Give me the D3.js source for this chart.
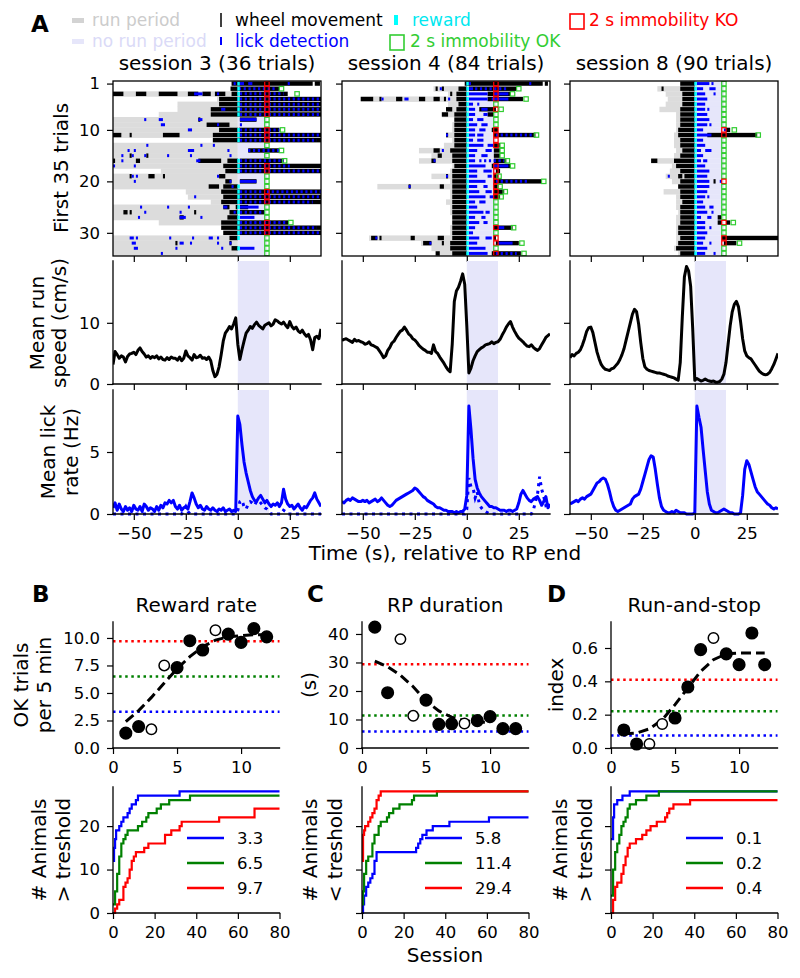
<!DOCTYPE html>
<html><head><meta charset="utf-8">
<script src="https://cdn.jsdelivr.net/npm/d3@7"></script>
<style>body{margin:0;background:#fff;}</style></head>
<body><svg id="fig" width="800" height="978"></svg>
<script>
// ---------------- DATA ----------------
const sessionTitles = ["session 3 (36 trials)", "session 4 (84 trials)", "session 8 (90 trials)"];
const timeTicks = [-50, -25, 0, 25];
const sampleTimes = d3.range(-60, 41);   // 1 s bins, -60..40 s
const shadePeriod = [0, 15];
const okCheckTime = 14;

const speed3 = [3.2,5.3,4.8,4.2,4.6,4.4,3.6,4.5,4.9,5.0, 5.2,4.8,5.5,5.9,5.3,4.9,4.4,4.6,4.2,4.5, 4.3,4.6,4.1,4.4,4.0,3.9,4.3,4.0,4.4,4.2, 4.2,3.9,4.4,3.8,4.2,5.4,4.6,4.3,3.9,4.8, 4.3,4.4,4.7,4.2,4.3,4.0,4.4,3.8,2.2,1.2, 1.6,2.8,4.8,7.0,8.3,8.8,9.4,9.0,9.8,10.8, 6.5,4.0,5.6,7.0,8.3,8.8,9.4,9.1,9.7,10.1, 9.6,9.3,9.0,9.6,9.8,10.0,9.5,9.8,10.5,10.3, 10.0,9.8,10.1,9.6,9.2,10.2,9.4,9.0,9.3,8.7, 8.4,8.8,8.2,7.8,8.1,7.2,5.6,7.6,7.8,7.4, 9.0];
const speed4 = [7.1,7.3,7.4,7.2,7.0,6.8,7.3,7.0,7.1,6.9, 6.8,6.5,6.6,6.9,6.4,6.3,6.1,5.9,5.4,4.9, 4.3,4.6,5.5,6.0,6.7,7.0,7.6,8.1,8.6,8.8, 9.3,8.8,8.2,7.9,7.4,7.2,6.8,6.3,6.0,5.7, 5.5,5.2,5.2,5.0,6.4,5.3,5.0,4.4,3.9,3.4, 2.8,2.3,2.0,6.5,13.5,15.2,15.8,16.8,18.0,16.3, 9.5,1.8,2.6,3.8,4.6,5.3,5.6,5.9,6.1,6.4, 6.5,6.6,6.9,6.6,6.8,6.9,7.3,8.0,8.6,9.3, 9.8,10.2,9.3,8.6,8.0,7.5,7.2,6.9,6.5,6.2, 6.1,6.4,6.0,5.7,5.5,5.8,6.4,7.0,7.6,7.9, 8.2];
const speed8 = [4.3,4.8,4.6,5.0,5.2,5.6,6.4,7.4,8.6,9.2, 9.3,8.4,6.8,5.2,4.1,3.2,2.7,2.4,2.3,2.2, 2.5,2.6,3.0,3.4,4.0,4.8,5.8,7.2,8.6,10.0, 11.4,12.2,11.8,9.8,6.8,4.2,2.8,2.4,2.2,2.1, 2.0,1.9,1.8,1.8,1.7,1.6,1.5,1.3,1.2,1.1, 1.0,0.8,0.6,3.5,11.0,17.5,19.2,18.5,16.0,9.0, 0.6,0.9,0.7,0.5,0.6,0.8,0.6,0.5,0.4,0.5, 0.3,0.3,0.4,0.8,1.6,3.5,6.5,9.5,11.8,13.0, 13.5,12.6,10.2,7.4,5.4,4.6,4.3,4.1,3.6,3.1, 2.6,2.1,1.8,1.6,1.5,1.6,1.9,2.5,3.2,4.1, 5.0];

const lick3 = [0.5,0.9,0.3,0.8,0.4,0.2,0.6,0.3,0.5,0.2, 0.7,0.4,0.3,0.6,0.2,0.8,0.6,0.3,0.5,0.4, 0.2,0.6,0.3,0.7,0.5,0.9,0.8,1.1,0.9,1.1, 0.6,0.4,0.7,0.3,0.5,0.6,0.4,1.0,1.7,1.3, 0.8,0.5,0.7,0.4,0.3,0.6,0.4,0.3,0.5,0.3, 0.2,0.4,0.3,0.5,0.2,0.3,0.4,0.2,0.3,0.2, 7.9,7.2,5.6,4.2,3.3,2.6,1.9,1.4,1.1,1.0, 1.3,1.5,1.2,0.9,1.1,0.8,0.6,0.8,0.7,0.9, 0.6,0.9,2.0,1.2,0.8,0.6,0.7,0.4,0.6,0.8, 0.5,0.3,0.6,0.5,0.8,1.1,1.3,1.7,1.2,0.9, 0.6];
const lick4 = [1.0,0.9,1.1,1.2,1.1,1.3,1.2,1.1,1.0,1.0, 1.1,1.0,1.1,0.9,1.0,1.1,1.2,1.0,1.1,1.3, 1.1,0.9,0.7,0.6,0.7,0.9,1.1,1.2,1.3,1.4, 1.5,1.6,1.7,1.8,1.9,2.1,2.0,1.8,1.6,1.4, 1.3,1.1,1.0,0.9,0.8,0.6,0.5,0.5,0.4,0.3, 0.3,0.2,0.2,0.2,0.1,0.2,0.1,0.2,0.2,0.4, 1.5,8.7,6.8,4.5,2.8,2.1,1.7,1.4,1.2,1.0, 0.8,0.6,0.6,0.5,0.5,0.4,0.3,0.3,0.3,0.2, 0.3,0.3,0.2,0.3,0.4,0.9,1.6,1.9,1.6,1.3, 1.1,1.0,1.2,1.3,1.4,1.1,0.7,1.0,1.4,0.5, 0.8];
const lick8 = [0.8,0.9,1.0,1.1,1.0,1.2,1.3,1.2,1.4,1.5, 1.6,1.9,2.2,2.5,2.6,2.8,2.9,2.8,2.4,1.8, 1.1,0.6,0.3,0.2,0.3,0.4,0.5,0.6,0.7,0.8, 1.2,1.4,1.5,1.6,2.0,2.6,3.2,3.8,4.4,4.7, 4.6,3.6,2.4,1.3,0.6,0.3,0.2,0.1,0.1,0.2, 0.1,0.3,0.2,0.1,0.1,0.1,0.0,0.0,0.0,0.0, 0.1,8.7,7.8,7.0,5.2,3.5,1.8,0.8,0.3,0.2, 0.1,0.1,0.2,0.3,0.4,0.3,0.2,0.1,0.1,0.0, 0.0,0.0,0.1,1.5,3.6,4.3,4.0,3.4,2.8,2.2, 1.8,1.6,1.4,1.2,1.0,0.8,0.7,0.5,0.4,0.5, 0.4];
const lickDot3 = [0,0,0,0,0,0,0,0,0,0, 0,0,0,0,0,0,0,0,0,0, 0,0,0,0,0,0,0,0,0,0, 0,0,0,0,0.3,0.6,0.2,0,0,0, 0,0,0,0,0,0,0,0,0,0, 0,0,0,0,0,0,0,0,0,0, 0.3,1.0,1.1,0.6,0.4,0.8,1.0,0.9,0.7,1.0, 1.1,0.9,0.7,0.5,0.4,0.2,0,0,0,0, 0,0,0.3,0.2,0,0,0,0,0,0, 0,0,0,0,0,0,0,0,0,0, 0];
const lickDot4 = [0,0,0,0,0,0,0,0,0,0, 0,0,0,0,0,0,0,0,0,0, 0,0,0,0,0,0,0,0,0,0, 0,0,0,0,0,0,0,0,0,0, 0,0,0,0,0,0,0,0,0,0, 0,0,0,0,0,0,0,0,0,0, 0.4,2.9,2.2,2.1,1.3,1.8,0.8,0.5,0.3,0.2, 0.1,0,0,0,0,0,0,0,0,0, 0,0,0,0,0,0,0,0,0,0, 0,0,0.3,1.0,1.6,3.0,2.0,1.4,0.7,0.8, 0.5];

// raster rows: [run period start, wheel movement segments, lick segments, KO at check, OK box time]
const s3Rows = [
 [null, [[-3,36],[37,39.5]], [[-2,-1],[1,3],[5,7],[24,25]], 1, null],
 [null, [[-3.5,20]], [[0.5,19]], 1, 21],
 [-60, [[-60,-55],[-49,-44],[-38,-29],[-24,-19],[-17,-13],[-11,-6],[-3,0],[1,24]], [[-21,-17],[-10,-9],[1,22]], 1, 28.5],
 [-10, [[-9,40]], [[1,40]], 1, null],
 [-29, [[-9,40]], [[1,39]], 1, null],
 [-29, [[-13,40]], [[-8,-6],[1,40]], 1, null],
 [-38, [[-13,40]], [[1,40]], 1, null],
 [-60, [[-19,-18],[1,9]], [[-45,-44],[-38,-36],[-19,-17],[1,9]], 0, 14],
 [-60, [[-15,-4]], [[-37,-35],[-10,-9],[1,2]], 0, 14],
 [-60, [[-9,0],[0.5,20]], [[-24,-22],[1,20]], 1, 21.5],
 [-60, [[-60,-56],[-52,-51],[-36,-28],[-12,40]], [[1,40]], 1, null],
 [null, [[-12,40]], [[1,38]], 1, null],
 [-60, [], [[-44,-43],[-18,-17],[-12,-11]], 0, 14],
 [-60, [[5,20]], [[-53,-52],[-50,-49],[-24,-21],[-5,-4],[5,20]], 0, 21],
 [-60, [[-52,-51],[-44,-43]], [[-56,-55],[-51,-50],[-45,-44],[-34,-33],[-23,-22],[-4,-3]], 0, 14],
 [-60, [[-60,-59],[-49,-47],[-19,-8],[-5,0],[1,22]], [[-56,-55],[-20,-18],[1,22]], 0, 22.5],
 [-60, [[-7,40]], [[-60,-59],[-50,-49],[1,25]], 1, null],
 [-37, [[-6,40]], [[1,40]], 1, null],
 [-60, [[-52,-51],[-43,-40],[-36,-35],[-9,-6]], [[-51,-50],[-49,-48],[-10,-9]], 0, 14],
 [-60, [[-6,-3],[1,9]], [[-50,-49],[-4,-3],[1,9]], 0, 14],
 [-60, [[-14,-9],[-7,0]], [[-3,-2]], 0, 14],
 [-25, [[-8,40]], [[1,12],[14,40]], 1, null],
 [-24, [[-7,40]], [[-21,-20],[1,40]], 1, null],
 [-13, [[-8,40]], [[1,36]], 1, null],
 [-60, [[-7,-4],[-1,0],[1,5]], [[-47,-46],[-34,-33],[-24,-23],[-7,-5],[1,10]], 0, 14],
 [-60, [[-55,-53],[-52,-51],[-21,-20],[-4,0],[1,13]], [[-45,-44],[-28,-27],[-2,-1],[1,13]], 0, 14],
 [-60, [[-28,-26],[-5,0]], [[-48,-47],[-28,-25],[-18,-17],[1,8]], 0, 14],
 [-38, [[-8,24.5]], [[1,24]], 1, 25.5],
 [null, [[-8,40]], [[1,38]], 1, null],
 [null, [[-7,40]], [[1,40]], 1, null],
 [-60, [[-4,0]], [[-52,-50],[-49,-48],[-33,-32],[-22,-21],[-14,-12],[-10,-9]], 0, 14],
 [-60, [[-30,-29],[-4,-3]], [[-51,-49],[-28,-26],[-23,-22],[-10,-9],[-4,-3]], 0, 14],
 [-60, [[-3,0]], [[-50,-48],[-30,-29],[-8,-7],[1,8]], 0, 14],
 [-60, [], [[-37,-36]], 0, 14]
];
const s4Rows = [
 [null, [[-1,36.5],[37.5,39]], [[1,2],[30,31]], 1, null],
 [-16, [[-15,-14],[-12,-11],[-4,0],[1,24]], [[-13,-12],[1,3],[4,19]], 1, 25],
 [-9, [[-8,-7],[-5,0],[10,21]], [[1,10],[13,20]], 1, 22],
 [-51, [[-51,-45],[-42,-41],[-34,-31],[-23,-20],[-16,-13],[-11,-10],[-5,0],[10,27]], [[-41,-40],[-30,-28],[-9,-8],[1,10],[12,20]], 1, 28.5],
 [-9, [[-4,0]], [[1,3],[5,6]], 0, 14],
 [-9, [[-10,-7],[-5,0],[6,14]], [[1,4],[7,10]], 1, 16.5],
 [-12, [[-12,-9],[-6,0],[10,13]], [[1,4],[8,10]], 0, 14],
 [-6, [[-6,0]], [[1,3],[5,8]], 0, 14],
 [-7, [[-6,0]], [[1,5],[7,10]], 0, 14],
 [-7, [[-6,0],[12,15]], [[1,4],[6,9]], 1, null],
 [-10, [[-10,-9],[-6,0],[13,33]], [[-10,-9],[1,4],[5,8],[14,32]], 1, 33.5],
 [-7, [[-6,0]], [[1,3],[5,8]], 1, null],
 [-11, [[-6,0],[13,16]], [[1,8],[10,13]], 1, 17],
 [-23, [[-16,-13],[-8,0],[13,16]], [[-12,-11],[1,5],[9,12]], 0, 17],
 [-17, [[-14,-12],[-7,0],[13,16]], [[1,4],[7,10]], 0, 17],
 [-23, [[-17,-15],[-7,0],[13,19]], [[-16,-15],[1,4],[6,18]], 0, 19.5],
 [-7, [[-6,0],[12,21]], [[1,9],[13,20]], 1, 22],
 [-8, [[-7,0],[14,16]], [[1,5],[8,12]], 1, null],
 [-17, [[-10,-9],[-7,0],[13,15]], [[-10,-9],[1,5],[10,12]], 1, 15.5],
 [-8, [[-7,0],[13,36]], [[1,9],[14,30]], 1, 37],
 [-43, [[-28,-27],[-13,-11],[-7,0],[13,15]], [[-28,-27],[1,5],[8,10]], 1, 16],
 [-8, [[-7,0],[13,18]], [[1,6],[9,12]], 1, 18.5],
 [-8, [[-7,0],[13,16]], [[1,9],[11,13]], 1, 16.5],
 [-10, [[-7,0]], [[1,4],[6,9]], 0, 14],
 [-8, [[-7,0]], [[1,5]], 0, 14],
 [-8, [[-7,0]], [[1,8],[9,11]], 0, 14],
 [-7, [[-7,0]], [[1,4],[7,9]], 0, 14],
 [-7, [[-7,0]], [[1,6],[8,10]], 0, 14],
 [-8, [[-7,0],[13,22]], [[1,4],[15,18]], 1, 22.5],
 [-8, [[-7,0]], [[1,3]], 0, 14],
 [-47, [[-46,-43],[-42,-41],[-27,-25],[-14,-11],[-7,0],[13,14]], [[-44,-43],[1,6],[9,12]], 1, null],
 [-22, [[-21,-17],[-12,-11],[-8,0],[14,25]], [[-18,-17],[1,5],[15,22]], 1, 26.5],
 [-17, [[-8,0]], [[1,9]], 0, 14],
 [-14, [[-15,-13],[-7,0],[12,26]], [[1,10],[14,24]], 1, 27.5]
];
const s8Rows = [
 [-7, [[-7,0]], [[1,7],[8,9]], 0, 14],
 [-18, [[-16,-15],[-7,0]], [[1,4],[7,10]], 0, 14],
 [-14, [[-6,0]], [[1,5],[9,10]], 0, 14],
 [-13, [[-6,0]], [[1,6]], 0, 14],
 [-14, [[-6,0]], [[1,5]], 0, 14],
 [-17, [[-7,0]], [[1,5],[6,7]], 0, 14],
 [-9, [[-7,0]], [[1,6]], 0, 14],
 [-9, [[-7,0]], [[1,7]], 0, 14],
 [-9, [[-7,0]], [[1,6],[7,8]], 0, 14],
 [-9, [[-8,0],[15,17]], [[1,4],[14,15]], 1, 19],
 [-10, [[-8,0],[6,30]], [[1,8]], 1, 30.5],
 [-10, [[-7,0]], [[1,4]], 0, 14],
 [-10, [[-7,0]], [[1,5]], 0, 14],
 [-9, [[-6,0]], [[1,3],[5,8]], 0, 14],
 [-10, [[-7,0]], [[1,4]], 0, 14],
 [-21, [[-21,-18],[-10,0]], [[1,3],[4,6]], 0, 14],
 [-11, [[-9,0]], [[1,5]], 0, 14],
 [-12, [[-7,0]], [[1,7]], 0, 14],
 [-14, [[-8,-6],[-5,0]], [[-13,-12],[1,6]], 0, 14],
 [-11, [[-7,0],[9,10]], [[1,7],[12,13]], 1, null],
 [-8, [[-8,0]], [[1,7]], 0, 14],
 [-15, [[-7,0]], [[1,6]], 0, 14],
 [-9, [[-7,0]], [[1,5],[6,7]], 0, 14],
 [-9, [[-6,0]], [[1,4]], 0, 14],
 [-9, [[-7,0]], [[1,5],[7,9]], 0, 14],
 [-8, [[-7,0]], [[1,6],[8,9]], 0, 14],
 [-9, [[-7,0],[11,13]], [[1,3],[6,8]], 0, 14],
 [-9, [[-7,0],[11,13],[15,17]], [[1,5]], 1, 18.5],
 [-9, [[-8,0]], [[1,5],[7,8]], 0, 14],
 [-9, [[-8,0]], [[1,6]], 0, 14],
 [-9, [[-7,0],[13,40]], [[1,5]], 1, null],
 [-9, [[-8,0],[14,20]], [[1,4],[7,8]], 1, 21.5],
 [-10, [[-9,0]], [[1,6]], 0, 14],
 [-8, [[-7,0]], [[1,5],[9,10]], 0, 14]
];

// panels B-D
const sessionsNum = [1,2,3,4,5,6,7,8,9,10,11,12];
const openSessions = [3,4,8];
const rewardRate = [1.35,1.95,1.7,7.5,7.3,9.75,8.9,10.7,10.35,9.6,10.85,10.1];
const rpDuration = [42.4,19.4,38.2,11.3,16.8,8.3,8.5,8.6,9.6,11.0,6.8,6.8];
const runStop = [0.108,0.024,0.024,0.144,0.18,0.366,0.59,0.66,0.565,0.5,0.69,0.5];
const rewardFit = [2.4,3.4,4.6,5.9,7.2,8.3,9.2,9.8,10.1,10.2,10.3,10.3];
const rpFit = [30.5,28.5,25.5,21.5,16.5,13.0,10.8,9.6,9.1,9.0];
const runStopFit = [0.085,0.09,0.115,0.17,0.26,0.36,0.46,0.53,0.565,0.57,0.57,0.57];
const rewardThr = [3.3, 6.5, 9.7];
const rpThr = [5.8, 11.4, 29.4];
const runStopThr = [0.075, 0.22, 0.41];

const rewardCum = [
 [[0,12],[0.5,15],[1,17],[1.5,19],[3,20],[4,21],[5,22],[7,23],[8,24],[9,25],[11,26],[12,27],[32,28],[80,28]],
 [[0,2],[1,5],[2,9],[3,13],[4,16],[5,17],[6,18],[7,19],[12,20],[14,21],[16,22],[17,23],[21,24],[23,25],[27,26],[37,27],[80,27]],
 [[0,0],[1,1],[2,2],[3,3],[5,6],[6,7],[7,8],[8,10],[9,12],[10,13],[11,14],[15,15],[17,16],[25,18],[28,19],[32,20],[33,21],[51,22],[68,24],[80,24]]
];
const rpCum = [
 [[0,0],[0.5,2],[1,4],[2,6],[3,7],[4,8],[5,9],[6,12],[7,14],[26,15],[27,16],[28,17],[29,18],[31,19],[34,20],[42,21],[61,22],[80,22]],
 [[0,2],[0.5,5],[1,9],[2,12],[3,13],[5,16],[6,18],[8,20],[9,21],[12,22],[13,23],[15,24],[18,25],[24,26],[25,27],[36,28],[80,28]],
 [[0,12],[0.5,18],[1,19],[1.5,20],[3,21],[4,22],[5,23],[6,24],[7,26],[8,27],[9,28],[80,28]]
];
const runStopCum = [
 [[0,17],[1,22],[1.5,25],[3,26],[5.5,27],[9,28],[80,28]],
 [[0,4],[1,10],[2,14],[3,16],[4,18],[5,20],[6,21],[7,22],[8,24],[9,25],[12,26],[17,27],[23,28],[80,28]],
 [[0,0],[1,3],[2,6],[3,7],[5,9],[6,11],[7,13],[8,15],[9,16],[12,17],[15,18],[17,19],[19,20],[22,21],[26,22],[27,23],[28,24],[30,25],[38,26],[80,26]]
];

// ---------------- DRAWING ----------------
const svg = d3.select("#fig");
const F = '"DejaVu Sans", Verdana, sans-serif';
const TF = 16.5;
const LAV = "#e6e6fa";
const thrColors = ["#0000ff", "#008000", "#ff0000"];
const OKG = "#32cd32";
const defs = svg.append("defs");
let clipN = 0;
function clip(x, y, w, h) {
  const id = "c" + (clipN++);
  defs.append("clipPath").attr("id", id).append("rect").attr("x", x).attr("y", y).attr("width", w).attr("height", h);
  return `url(#${id})`;
}
function txt(x, y, s, o = {}) {
  const t = svg.append("text").attr("x", x).attr("y", y).text(s)
    .attr("font-family", F).attr("font-size", o.size || 20).attr("fill", o.fill || "#000")
    .attr("text-anchor", o.anchor || "start");
  if (o.bold) t.attr("font-weight", "bold");
  return t;
}
function vtxt(x, y, s, size = 20) {
  return svg.append("text").attr("transform", `translate(${x},${y}) rotate(-90)`)
    .attr("text-anchor", "middle").attr("font-family", F).attr("font-size", size).attr("fill", "#000").text(s);
}
function styleAxis(g) {
  g.select(".domain").remove();
  g.selectAll(".tick line").attr("stroke", "#000").attr("stroke-width", 1.2);
  g.selectAll(".tick text").attr("font-family", F).attr("font-size", TF).attr("fill", "#000");
}
function spine(x1, y1, x2, y2) {
  svg.append("line").attr("x1", x1).attr("y1", y1).attr("x2", x2).attr("y2", y2)
    .attr("stroke", "#000").attr("stroke-width", 1.3).attr("stroke-linecap", "square");
}
function leftAxis(x0, y, ticks, fmt) {
  const g = svg.append("g").attr("transform", `translate(${x0},0)`)
    .call(d3.axisLeft(y).tickValues(ticks).tickSize(6).tickPadding(7).tickFormat(fmt));
  styleAxis(g);
}
function bottomAxis(y0, x, ticks, fmt) {
  const g = svg.append("g").attr("transform", `translate(0,${y0})`)
    .call(d3.axisBottom(x).tickValues(ticks).tickSize(6).tickPadding(7).tickFormat(fmt));
  styleAxis(g);
}

// ---- Legend (panel A) ----
txt(31, 32, "A", {size: 23, bold: true});
svg.append("rect").attr("x", 72).attr("y", 18).attr("width", 12).attr("height", 5).attr("fill", "#d3d3d3");
txt(92, 26, "run period", {size: 17, fill: "#cccccc"});
svg.append("line").attr("x1", 221).attr("x2", 221).attr("y1", 13).attr("y2", 27).attr("stroke", "#000").attr("stroke-width", 1.5);
txt(235, 26, "wheel movement", {size: 17});
svg.append("rect").attr("x", 394).attr("y", 15).attr("width", 4).attr("height", 10).attr("fill", "#00ffff");
txt(412, 26, "reward", {size: 17, fill: "#00e8f0"});
svg.append("rect").attr("x", 570).attr("y", 14).attr("width", 14).attr("height", 15).attr("fill", "none").attr("stroke", "#ff0000").attr("stroke-width", 1.6);
txt(589, 26, "2 s immobility KO", {size: 17, fill: "#ff0000"});
svg.append("rect").attr("x", 72).attr("y", 39).attr("width", 12).attr("height", 5).attr("fill", LAV);
txt(92, 47, "no run period", {size: 17, fill: "#dadaf7"});
svg.append("line").attr("x1", 221).attr("x2", 221).attr("y1", 37).attr("y2", 45).attr("stroke", "#0000ff").attr("stroke-width", 2);
txt(235, 47, "lick detection", {size: 17, fill: "#0000ff"});
svg.append("rect").attr("x", 390).attr("y", 35).attr("width", 14).attr("height", 15).attr("fill", "none").attr("stroke", OKG).attr("stroke-width", 1.6);
txt(410, 47, "2 s immobility OK", {size: 17, fill: OKG});

// ---- Panel A ----
const colX = [113, 342, 570], colW = 208;
const RT = 81, RB = 256, ST = 261, SB = 384, LT = 390, LB = 514;
const rasters = [s3Rows, s4Rows, s8Rows];
const speeds = [speed3, speed4, speed8];
const licks = [lick3, lick4, lick8];
const lickDots = [lickDot3, lickDot4, null];

colX.forEach((x0, si) => {
  const x = d3.scaleLinear().domain([-60, 40]).range([x0, x0 + colW]);
  const yR = d3.scaleLinear().domain([0.5, 34.5]).range([RT, RB]);
  const pitch = yR(2) - yR(1);
  const rows = rasters[si];
  txt(x0 + colW / 2, 70, sessionTitles[si], {anchor: "middle"});
  const g = svg.append("g").attr("clip-path", clip(x0, RT, colW, RB - RT));
  rows.forEach((r, i) => {
    if (r[0] !== null) g.append("rect").attr("x", x(r[0])).attr("y", yR(i + 1) - pitch / 2)
      .attr("width", x(0) - x(r[0])).attr("height", pitch + 0.3).attr("fill", "#dcdcdc");
  });
  rows.forEach((r, i) => {
    g.append("rect").attr("x", x(0)).attr("y", yR(i + 1) - pitch / 2)
      .attr("width", x(okCheckTime) - x(0)).attr("height", pitch + 0.3).attr("fill", LAV);
  });
  rows.forEach((r, i) => r[1].forEach(m => {
    g.append("rect").attr("x", x(m[0])).attr("y", yR(i + 1) - 2.2)
      .attr("width", Math.max(1, x(m[1]) - x(m[0]))).attr("height", 4.4).attr("fill", "#000");
  }));
  // licks: dense bouts drawn solid, long sparse bouts drawn as separate ticks
  rows.forEach((r, i) => r[2].forEach(l => {
    const long = (l[1] - l[0]) > 9;
    g.append("line").attr("x1", x(l[0])).attr("x2", Math.max(x(l[0]) + 1, x(l[1])))
      .attr("y1", yR(i + 1)).attr("y2", yR(i + 1))
      .attr("stroke", "#0000ff").attr("stroke-width", 3)
      .attr("stroke-dasharray", long ? "2.2,2.6" : null);
  }));
  rows.forEach((r, i) => {
    if (r[1].some(m => m[0] < -0.5 && m[1] >= -0.5))
      g.append("rect").attr("x", x(0) - 0.5).attr("y", yR(i + 1) - 2).attr("width", 2.5).attr("height", 4).attr("fill", "#00ffff");
  });
  const bs = 4.4;
  rows.forEach((r, i) => {
    if (r[3]) g.append("rect").attr("x", x(okCheckTime) - bs / 2).attr("y", yR(i + 1) - bs / 2)
      .attr("width", bs).attr("height", bs).attr("fill", "none").attr("stroke", "#ff0000").attr("stroke-width", 1.2);
    if (r[4] !== null) g.append("rect").attr("x", x(r[4]) - bs / 2).attr("y", yR(i + 1) - bs / 2)
      .attr("width", bs).attr("height", bs).attr("fill", "none").attr("stroke", OKG).attr("stroke-width", 1.2);
  });
  svg.append("rect").attr("x", x0).attr("y", RT).attr("width", colW).attr("height", RB - RT)
    .attr("fill", "none").attr("stroke", "#000").attr("stroke-width", 1.3);
  leftAxis(x0, yR, [1, 10, 20, 30], si === 0 ? d3.format("d") : () => "");
  bottomAxis(RB, x, timeTicks, () => "");

  // speed
  const yS = d3.scaleLinear().domain([0, 20.1]).range([SB, ST]);
  svg.append("rect").attr("x", x(shadePeriod[0])).attr("y", ST).attr("width", x(shadePeriod[1]) - x(shadePeriod[0]))
    .attr("height", SB - ST).attr("fill", LAV);
  svg.append("path").datum(speeds[si]).attr("clip-path", clip(x0, ST - 3, colW, SB - ST + 6))
    .attr("d", d3.line().x((d, i) => x(sampleTimes[i])).y(d => yS(d)))
    .attr("fill", "none").attr("stroke", "#000").attr("stroke-width", 3).attr("stroke-linejoin", "round");
  spine(x0, ST, x0, SB); spine(x0, SB, x0 + colW, SB);
  leftAxis(x0, yS, [0, 10], si === 0 ? d3.format("d") : () => "");
  bottomAxis(SB, x, timeTicks, () => "");

  // lick
  const yL = d3.scaleLinear().domain([0, 10]).range([LB, LT]);
  svg.append("rect").attr("x", x(shadePeriod[0])).attr("y", LT).attr("width", x(shadePeriod[1]) - x(shadePeriod[0]))
    .attr("height", LB - LT).attr("fill", LAV);
  const lc = clip(x0, LT - 3, colW, LB - LT + 6);
  if (lickDots[si]) svg.append("path").datum(lickDots[si]).attr("clip-path", lc)
    .attr("d", d3.line().x((d, i) => x(sampleTimes[i])).y(d => yL(d)))
    .attr("fill", "none").attr("stroke", "#0000ff").attr("stroke-width", 3).attr("stroke-dasharray", "3,4.5");
  svg.append("path").datum(licks[si]).attr("clip-path", lc)
    .attr("d", d3.line().x((d, i) => x(sampleTimes[i])).y(d => yL(d)))
    .attr("fill", "none").attr("stroke", "#0000ff").attr("stroke-width", 3).attr("stroke-linejoin", "round");
  spine(x0, LT, x0, LB); spine(x0, LB, x0 + colW, LB);
  leftAxis(x0, yL, [0, 5], si === 0 ? d3.format("d") : () => "");
  bottomAxis(LB, x, timeTicks, d3.format("d"));
});
vtxt(68, 168, "First 35 trials");
vtxt(44, 323, "Mean run"); vtxt(66, 323, "speed (cm/s)");
vtxt(55, 452, "Mean lick"); vtxt(78, 452, "rate (Hz)");
txt(445, 560, "Time (s), relative to RP end", {anchor: "middle"});

// ---- Panels B, C, D ----
const PT = 622, PB = 748, CT = 787, CB = 913;
const panels = [
  {x0: 113, letter: "B", lx: 32, title: "Reward rate", vals: rewardRate, fit: rewardFit, thr: rewardThr, ymax: 11.45,
   yt: [0, 2.5, 5, 7.5, 10], yfmt: d3.format(".1f"), lab: [[28, "OK trials"], [51, "per 5 min"]],
   cum: rewardCum, cumLab: [[46, "# Animals"], [70, "> treshold"]], cumTickLab: true, legX: 187, legFmt: d3.format(".1f")},
  {x0: 362, letter: "C", lx: 307, title: "RP duration", vals: rpDuration, fit: rpFit, thr: rpThr, ymax: 44.2,
   yt: [0, 10, 20, 30, 40], yfmt: d3.format("d"), lab: [[316, "(s)"]],
   cum: rpCum, cumLab: [[317, "# Animals"], [342, "< treshold"]], cumTickLab: false, legX: 425, legFmt: d3.format(".1f")},
  {x0: 611, letter: "D", lx: 547, title: "Run-and-stop", vals: runStop, fit: runStopFit, thr: runStopThr, ymax: 0.756,
   yt: [0, 0.2, 0.4, 0.6], yfmt: d3.format(".1f"), lab: [[563, "index"]],
   cum: runStopCum, cumLab: [[567, "# Animals"], [592, "> treshold"]], cumTickLab: false, legX: 686, legFmt: d3.format(".1f")}
];
const pw = 166.5;
panels.forEach(p => {
  const x = d3.scaleLinear().domain([0, 13]).range([p.x0, p.x0 + pw]);
  const y = d3.scaleLinear().domain([0, p.ymax]).range([PB, PT]);
  txt(p.lx, 602, p.letter, {size: 23, bold: true});
  txt(p.x0 + pw / 2, 612, p.title, {anchor: "middle"});
  p.thr.forEach((t, k) => {
    svg.append("line").attr("x1", x(0)).attr("x2", x(13)).attr("y1", y(t)).attr("y2", y(t))
      .attr("stroke", thrColors[k]).attr("stroke-width", 2.5).attr("stroke-dasharray", "2.5,3.6");
  });
  svg.append("path").datum(p.fit)
    .attr("d", d3.line().x((d, i) => x(sessionsNum[i])).y(d => y(d)))
    .attr("fill", "none").attr("stroke", "#000").attr("stroke-width", 3).attr("stroke-dasharray", "10,5");
  p.vals.forEach((v, i) => {
    const open = openSessions.includes(sessionsNum[i]);
    svg.append("circle").attr("cx", x(sessionsNum[i])).attr("cy", y(v)).attr("r", open ? 5.2 : 5.8)
      .attr("fill", open ? "#fff" : "#000").attr("stroke", "#000").attr("stroke-width", 1.5);
  });
  spine(p.x0, PT, p.x0, PB); spine(p.x0, PB, p.x0 + pw, PB);
  leftAxis(p.x0, y, p.yt, p.yfmt);
  bottomAxis(PB, x, [0, 5, 10], d3.format("d"));
  p.lab.forEach(l => vtxt(l[0], 685, l[1]));

  // cumulative
  const xc = d3.scaleLinear().domain([0, 80]).range([p.x0, p.x0 + pw]);
  const yc = d3.scaleLinear().domain([0, 29]).range([CB, CT]);
  p.cum.forEach((c, k) => {
    svg.append("path").datum(c)
      .attr("d", d3.line().curve(d3.curveStepAfter).x(d => xc(d[0])).y(d => yc(d[1])))
      .attr("fill", "none").attr("stroke", thrColors[k]).attr("stroke-width", 2.2);
  });
  spine(p.x0, CT, p.x0, CB); spine(p.x0, CB, p.x0 + pw, CB);
  leftAxis(p.x0, yc, [0, 10, 20], p.cumTickLab ? d3.format("d") : () => "");
  bottomAxis(CB, xc, [0, 20, 40, 60, 80], d3.format("d"));
  p.cumLab.forEach(l => vtxt(l[0], 850, l[1]));
  p.thr.forEach((t, k) => {
    const yy = 838 + k * 25;
    svg.append("line").attr("x1", p.legX).attr("x2", p.legX + 37).attr("y1", yy).attr("y2", yy)
      .attr("stroke", thrColors[k]).attr("stroke-width", 2.5);
    txt(p.legX + 50, yy + 6, p.legFmt(t), {size: TF});
  });
});
txt(445, 962, "Session", {anchor: "middle"});
</script></body></html>
